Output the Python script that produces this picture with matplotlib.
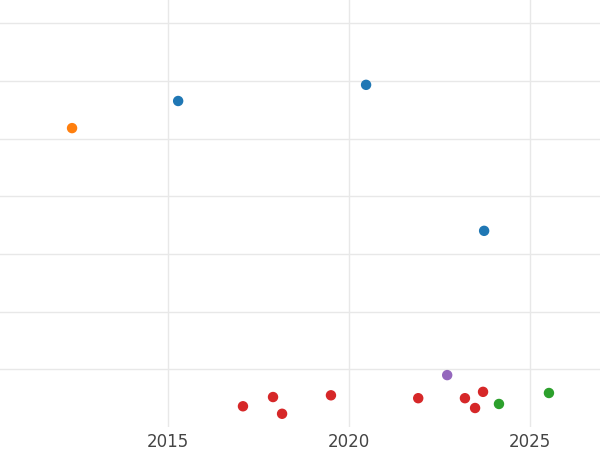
import matplotlib.pyplot as plt

years = [2012.35, 2015.28, 2020.47, 2023.73, 2022.71,
         2017.07, 2017.90, 2018.15, 2019.50, 2021.91, 2023.20, 2023.48, 2023.70,
         2024.14, 2025.52]
values = [5.18, 5.65, 5.93, 3.40, 0.90,
          0.36, 0.52, 0.23, 0.55, 0.50, 0.50, 0.33, 0.61,
          0.40, 0.59]
groups = ['orange', 'blue', 'blue', 'blue', 'purple',
          'red', 'red', 'red', 'red', 'red', 'red', 'red', 'red',
          'green', 'green']
palette = {'blue': '#1f77b4', 'orange': '#ff7f0e', 'green': '#2ca02c',
           'red': '#d62728', 'purple': '#9467bd'}

fig = plt.figure(figsize=(6, 4.5), dpi=100)
ax = fig.add_axes([0, 0.051, 1, 0.949])
ax.scatter(years, values, c=[palette[g] for g in groups], s=42, zorder=3)

ax.set_xlim(2010.36, 2026.93)
ax.set_ylim(0, 7.4)
ax.set_xticks([2015, 2020, 2025])
ax.set_yticks(range(1, 8))
ax.set_yticklabels([])
ax.tick_params(axis='y', length=0)
ax.tick_params(axis='x', length=0, labelsize=12, labelcolor='#444444', pad=4)
ax.grid(color='#e8e8e8', lw=1)
for s in ax.spines.values():
    s.set_visible(False)

fig.savefig('out.png')
